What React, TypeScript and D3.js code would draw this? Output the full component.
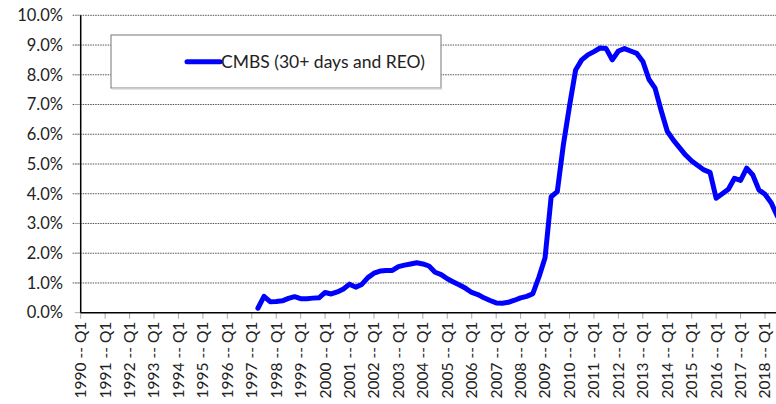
import React from "react";
import * as d3 from "d3";

// quarterly categories 1990 Q1 .. 2018 Q3
const years = d3.range(1990, 2019);
const quarters: string[] = [];
years.forEach((y) => ["Q1", "Q2", "Q3", "Q4"].forEach((q) => quarters.push(`${y} -- ${q}`)));
const categories = quarters.slice(0, quarters.indexOf("2018 -- Q3") + 1);

// CMBS delinquency rate (30+ days and REO), %, from 1997 Q2
const firstQuarter = "1997 -- Q2";
const cmbsValues = [
  0.15, 0.55, 0.37,
  0.38, 0.4, 0.48, 0.54,
  0.47, 0.47, 0.49, 0.5,
  0.68, 0.63, 0.7, 0.8,
  0.96, 0.86, 0.95, 1.18,
  1.33, 1.4, 1.42, 1.42,
  1.55, 1.6, 1.64, 1.68,
  1.64, 1.57, 1.36, 1.28,
  1.14, 1.03, 0.93, 0.82,
  0.68, 0.61, 0.5, 0.41,
  0.33, 0.32, 0.35, 0.42,
  0.5, 0.55, 0.64, 1.2,
  1.85, 3.9, 4.07, 5.65,
  6.95, 8.16, 8.5, 8.67,
  8.78, 8.9, 8.88, 8.5,
  8.8, 8.88, 8.8, 8.72,
  8.45, 7.85, 7.55, 6.8,
  6.1, 5.8, 5.55, 5.3,
  5.1, 4.95, 4.8, 4.72,
  3.85, 4.0, 4.15, 4.52,
  4.45, 4.86, 4.63, 4.13,
  3.98, 3.7, 3.25,
];
const yTicks = [0, 1, 2, 3, 4, 5, 6, 7, 8, 9, 10];
const seriesName = "CMBS (30+ days and REO)";

const width = 776;
const height = 404;
const font = "Lato, 'Open Sans', sans-serif";

const App = () => {
  const start = categories.indexOf(firstQuarter);
  const points = cmbsValues.map((v, i) => ({ cat: categories[start + i], v }));

  const x = d3
    .scalePoint<string>()
    .domain(categories)
    .range([80.7, 80.7 + (categories.length - 1) * 6.11]);
  const y = d3.scaleLinear().domain([0, 10]).range([312.7, 15.3]);

  const line = d3
    .line<{ cat: string; v: number }>()
    .x((d) => x(d.cat)!)
    .y((d) => y(d.v))
    .curve(d3.curveLinear);

  const plotLeft = x(categories[0])!;
  const yearTicks = categories.filter((c) => c.endsWith("Q1"));

  return (
    <svg width={width} height={height} style={{ position: "absolute", left: 0, top: 0 }}>
      <rect width={width} height={height} fill="#fff" />
      {/* grid */}
      {yTicks.map((t) => (
        <g key={t}>
          {t > 0 && (
            <line
              x1={plotLeft - 8}
              x2={width}
              y1={y(t)}
              y2={y(t)}
              stroke="#555"
              strokeWidth={1}
              strokeDasharray="1.5,1"
            />
          )}
          <line x1={plotLeft - 6} x2={plotLeft} y1={y(t)} y2={y(t)} stroke="#aaa" strokeWidth={1} />
          <text
            x={63}
            y={y(t)}
            dy="0.35em"
            textAnchor="end"
            fontFamily={font}
            fontSize={16.5}
            fill="#222"
          >
            {t.toFixed(1)}%
          </text>
        </g>
      ))}
      {/* x ticks & labels */}
      {yearTicks.map((c) => (
        <g key={c} transform={`translate(${x(c)},${y(0)})`}>
          <line y1={0} y2={6} stroke="#aaa" strokeWidth={1} />
          <text
            transform="rotate(-90)"
            x={-9}
            y={0}
            dy="0.35em"
            textAnchor="end"
            fontFamily={font}
            fontSize={15.5}
            fill="#222"
          >
            {c}
          </text>
        </g>
      ))}
      {/* axes */}
      <line x1={plotLeft} x2={plotLeft} y1={y(10)} y2={y(0)} stroke="#000" strokeWidth={1.5} />
      <line x1={plotLeft} x2={width} y1={y(0)} y2={y(0)} stroke="#000" strokeWidth={1.5} />
      {/* series */}
      <path
        d={line(points) ?? ""}
        fill="none"
        stroke="#0000ff"
        strokeWidth={5}
        strokeLinejoin="round"
        strokeLinecap="round"
      />
      {/* legend */}
      <g>
        <rect x={111} y={35} width={330} height={53} fill="#fff" stroke="#777" strokeWidth={1} />
        <line x1={112} x2={442} y1={88.5} y2={88.5} stroke="#ccc" strokeWidth={2} />
        <line x1={187} x2={220} y1={61.7} y2={61.7} stroke="#0000ff" strokeWidth={5} strokeLinecap="round" />
        <text x={221} y={61.7} dy="0.35em" fontFamily={font} fontSize={17.5} fill="#222">
          {seriesName}
        </text>
      </g>
    </svg>
  );
};

export default App;
